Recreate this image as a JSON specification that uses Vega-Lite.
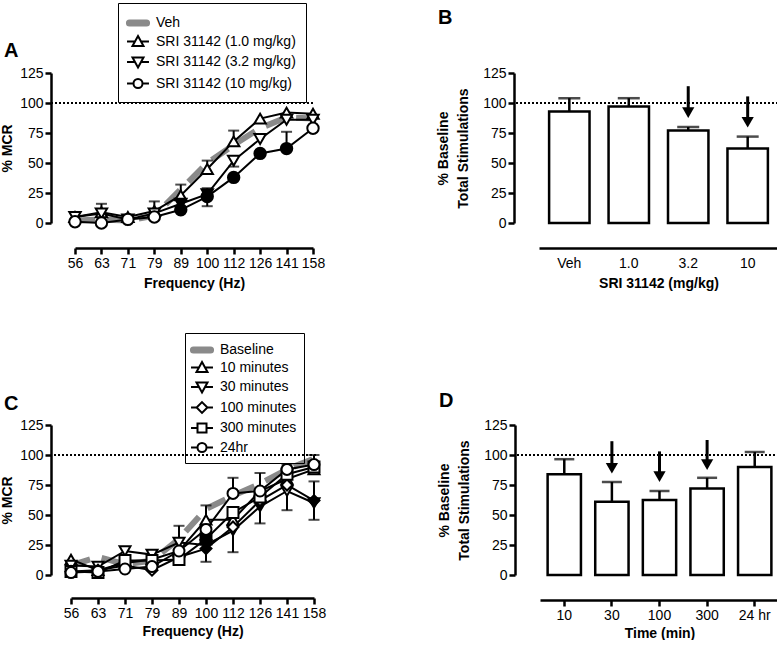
{
  "$schema": "https://vega.github.io/schema/vega-lite/v6.json",
  "padding": {"left": 0, "top": 2, "right": 0, "bottom": 0},
  "background": "white",
  "resolve": {"scale": {"shape": "independent", "fill": "independent", "stroke": "independent"}, "legend": {"shape": "independent", "fill": "independent", "stroke": "independent"}},
  "config": {
    "font": "Liberation Sans",
    "view": {"stroke": null},
    "axis": {"domainColor": "black", "domainWidth": 2.5, "tickColor": "black", "tickWidth": 2.5, "tickSize": 6, "labelColor": "black", "labelFontSize": 14, "labelFont": "Liberation Sans", "titleFont": "Liberation Sans", "titleFontSize": 14, "titleFontWeight": "bold", "titleColor": "black", "grid": false, "labelPadding": 2},
    "legend": {"labelFont": "Liberation Sans", "labelColor": "black", "labelFontSize": 14},
    "title": {"font": "Liberation Sans", "fontSize": 20, "fontWeight": "bold", "color": "black", "anchor": "start", "frame": "group"}
  },
  "vconcat": [
    {
      "resolve": {"scale": {"shape": "independent", "fill": "independent", "stroke": "independent"}, "legend": {"shape": "independent", "fill": "independent", "stroke": "independent"}},
      "hconcat": [
        {
          "width": 262, "height": 150,
          "title": {"text": "A", "dx": -47, "dy": 62},
          "resolve": {"scale": {"shape": "independent", "fill": "independent", "stroke": "independent"}, "legend": {"shape": "independent", "fill": "independent", "stroke": "independent"}},
          "data": {"values": [
            {"s": "Veh", "f": 56, "v": 2}, {"s": "Veh", "f": 63, "v": 3}, {"s": "Veh", "f": 71, "v": 2}, {"s": "Veh", "f": 79, "v": 6}, {"s": "Veh", "f": 89, "v": 28}, {"s": "Veh", "f": 100, "v": 50}, {"s": "Veh", "f": 112, "v": 65}, {"s": "Veh", "f": 126, "v": 79}, {"s": "Veh", "f": 141, "v": 88}, {"s": "Veh", "f": 158, "v": 87},
            {"s": "SRI 31142 (1.0 mg/kg)", "f": 56, "v": 5, "sig": 0}, {"s": "SRI 31142 (1.0 mg/kg)", "f": 63, "v": 9, "sig": 0, "hi": 16}, {"s": "SRI 31142 (1.0 mg/kg)", "f": 71, "v": 5, "sig": 0}, {"s": "SRI 31142 (1.0 mg/kg)", "f": 79, "v": 10, "sig": 0, "hi": 18}, {"s": "SRI 31142 (1.0 mg/kg)", "f": 89, "v": 23, "sig": 0, "hi": 32}, {"s": "SRI 31142 (1.0 mg/kg)", "f": 100, "v": 45, "sig": 0, "hi": 52}, {"s": "SRI 31142 (1.0 mg/kg)", "f": 112, "v": 68, "sig": 0, "hi": 77}, {"s": "SRI 31142 (1.0 mg/kg)", "f": 126, "v": 87, "sig": 0}, {"s": "SRI 31142 (1.0 mg/kg)", "f": 141, "v": 92, "sig": 0}, {"s": "SRI 31142 (1.0 mg/kg)", "f": 158, "v": 91, "sig": 0},
            {"s": "SRI 31142 (3.2 mg/kg)", "f": 56, "v": 5, "sig": 0}, {"s": "SRI 31142 (3.2 mg/kg)", "f": 63, "v": 8, "sig": 0}, {"s": "SRI 31142 (3.2 mg/kg)", "f": 71, "v": 3, "sig": 0}, {"s": "SRI 31142 (3.2 mg/kg)", "f": 79, "v": 8, "sig": 0}, {"s": "SRI 31142 (3.2 mg/kg)", "f": 89, "v": 16, "sig": 1}, {"s": "SRI 31142 (3.2 mg/kg)", "f": 100, "v": 24, "sig": 1, "hi": 29, "lo": 14}, {"s": "SRI 31142 (3.2 mg/kg)", "f": 112, "v": 52, "sig": 0, "lo": 47}, {"s": "SRI 31142 (3.2 mg/kg)", "f": 126, "v": 70, "sig": 0}, {"s": "SRI 31142 (3.2 mg/kg)", "f": 141, "v": 86, "sig": 0}, {"s": "SRI 31142 (3.2 mg/kg)", "f": 158, "v": 86, "sig": 0},
            {"s": "SRI 31142 (10 mg/kg)", "f": 56, "v": 1, "sig": 0}, {"s": "SRI 31142 (10 mg/kg)", "f": 63, "v": 0, "sig": 0}, {"s": "SRI 31142 (10 mg/kg)", "f": 71, "v": 3, "sig": 0}, {"s": "SRI 31142 (10 mg/kg)", "f": 79, "v": 5, "sig": 0}, {"s": "SRI 31142 (10 mg/kg)", "f": 89, "v": 11, "sig": 1}, {"s": "SRI 31142 (10 mg/kg)", "f": 100, "v": 22, "sig": 1}, {"s": "SRI 31142 (10 mg/kg)", "f": 112, "v": 38, "sig": 1}, {"s": "SRI 31142 (10 mg/kg)", "f": 126, "v": 58, "sig": 1}, {"s": "SRI 31142 (10 mg/kg)", "f": 141, "v": 62, "sig": 1, "hi": 76}, {"s": "SRI 31142 (10 mg/kg)", "f": 158, "v": 79, "sig": 0}
          ]},
          "layer": [
            {"mark": {"type": "rule", "strokeDash": [2, 2], "strokeWidth": 1.5, "color": "black"},
             "encoding": {"y": {"datum": 100, "type": "quantitative", "scale": {"domain": [0, 125], "nice": false}, "axis": {"title": "% MCR", "values": [0, 25, 50, 75, 100, 125], "titlePadding": 5}}}},
            {"transform": [{"filter": "datum.s === 'Veh'"}],
             "mark": {"type": "line", "color": "#8a8a8a", "strokeWidth": 6, "strokeDash": [20, 12]},
             "encoding": {"x": {"field": "f", "type": "ordinal", "scale": {"type": "point", "padding": 0, "range": [24, 262]}, "axis": {"title": "Frequency (Hz)", "offset": 25, "labelAngle": 0, "titlePadding": 6}}, "y": {"field": "v", "type": "quantitative", "axis": {"title": "% MCR", "values": [0, 25, 50, 75, 100, 125], "titlePadding": 5}}}},
            {"transform": [{"filter": "datum.s !== 'Veh'"}],
             "mark": {"type": "line", "color": "black", "strokeWidth": 2},
             "encoding": {"x": {"field": "f", "type": "ordinal"}, "y": {"field": "v", "type": "quantitative", "axis": {"title": "% MCR", "values": [0, 25, 50, 75, 100, 125], "titlePadding": 5}}, "detail": {"field": "s"}}},
            {"transform": [{"filter": "isValid(datum.hi)"}],
             "mark": {"type": "rule", "color": "black", "strokeWidth": 2},
             "encoding": {"x": {"field": "f", "type": "ordinal"}, "y": {"field": "v", "type": "quantitative", "axis": {"title": "% MCR", "values": [0, 25, 50, 75, 100, 125], "titlePadding": 5}}, "y2": {"field": "hi"}}},
            {"transform": [{"filter": "isValid(datum.lo)"}],
             "mark": {"type": "rule", "color": "black", "strokeWidth": 2},
             "encoding": {"x": {"field": "f", "type": "ordinal"}, "y": {"field": "v", "type": "quantitative", "axis": {"title": "% MCR", "values": [0, 25, 50, 75, 100, 125], "titlePadding": 5}}, "y2": {"field": "lo"}}},
            {"transform": [{"filter": "isValid(datum.hi)"}],
             "mark": {"type": "tick", "color": "black", "thickness": 2, "size": 11},
             "encoding": {"x": {"field": "f", "type": "ordinal"}, "y": {"field": "hi", "type": "quantitative", "axis": {"title": "% MCR", "values": [0, 25, 50, 75, 100, 125], "titlePadding": 5}}}},
            {"transform": [{"filter": "isValid(datum.lo)"}],
             "mark": {"type": "tick", "color": "black", "thickness": 2, "size": 11},
             "encoding": {"x": {"field": "f", "type": "ordinal"}, "y": {"field": "lo", "type": "quantitative", "axis": {"title": "% MCR", "values": [0, 25, 50, 75, 100, 125], "titlePadding": 5}}}},
            {"transform": [{"filter": "datum.s !== 'Veh'"}],
             "mark": {"type": "point", "filled": true, "stroke": "black", "strokeWidth": 2, "size": 130, "opacity": 1},
             "encoding": {
               "x": {"field": "f", "type": "ordinal"}, "y": {"field": "v", "type": "quantitative", "axis": {"title": "% MCR", "values": [0, 25, 50, 75, 100, 125], "titlePadding": 5}},
               "fill": {"condition": {"test": "datum.sig === 1", "value": "black"}, "value": "white"},
               "shape": {"field": "s", "type": "nominal", "scale": {"domain": ["SRI 31142 (1.0 mg/kg)", "SRI 31142 (3.2 mg/kg)", "SRI 31142 (10 mg/kg)"], "range": ["triangle-up", "triangle-down", "circle"]}, "legend": null}
             }},
            {"transform": [{"filter": "datum.s === 'none'"}],
             "mark": {"type": "point", "filled": true, "strokeWidth": 2, "size": 324},
             "encoding": {
               "x": {"field": "f", "type": "ordinal"}, "y": {"field": "v", "type": "quantitative", "axis": {"title": "% MCR", "values": [0, 25, 50, 75, 100, 125], "titlePadding": 5}},
               "shape": {"field": "s", "type": "nominal",
                 "scale": {"domain": ["Veh", "SRI 31142 (1.0 mg/kg)", "SRI 31142 (3.2 mg/kg)", "SRI 31142 (10 mg/kg)"], "range": ["M-0.95,-0.28H0.95A0.28,0.28 0 0,1 0.95,0.28H-0.95A0.28,0.28 0 0,1 -0.95,-0.28Z", "M-1.22,0H-0.33M0.33,0H1.22M0,-0.6L0.61,0.5H-0.61Z", "M-1.22,0H-0.33M0.33,0H1.22M0,0.6L0.61,-0.5H-0.61Z", "M-1.22,0H-0.5M0.5,0H1.22M-0.5,0A0.5,0.5 0 1,0 0.5,0A0.5,0.5 0 1,0 -0.5,0Z"]},
                 "legend": {"title": null, "orient": "none", "legendX": 67, "legendY": -70, "labelFontSize": 14, "symbolSize": 324, "symbolStrokeWidth": 2, "symbolOpacity": 1, "rowPadding": 1.5, "padding": 10, "labelOffset": 8, "strokeColor": "black", "encode": {"legend": {"strokeWidth": {"value": 2.5}}}}},
               "fill": {"field": "s", "type": "nominal",
                 "scale": {"domain": ["Veh", "SRI 31142 (1.0 mg/kg)", "SRI 31142 (3.2 mg/kg)", "SRI 31142 (10 mg/kg)"], "range": ["#8a8a8a", "white", "white", "white"]},
                 "legend": {"title": null, "orient": "none", "legendX": 67, "legendY": -70, "labelFontSize": 14, "symbolSize": 324, "symbolStrokeWidth": 2, "symbolOpacity": 1, "rowPadding": 1.5, "padding": 10, "labelOffset": 8, "strokeColor": "black", "encode": {"legend": {"strokeWidth": {"value": 2.5}}}}},
               "stroke": {"field": "s", "type": "nominal",
                 "scale": {"domain": ["Veh", "SRI 31142 (1.0 mg/kg)", "SRI 31142 (3.2 mg/kg)", "SRI 31142 (10 mg/kg)"], "range": ["#8a8a8a", "black", "black", "black"]},
                 "legend": {"title": null, "orient": "none", "legendX": 67, "legendY": -70, "labelFontSize": 14, "symbolSize": 324, "symbolStrokeWidth": 2, "symbolOpacity": 1, "rowPadding": 1.5, "padding": 10, "labelOffset": 8, "strokeColor": "black", "encode": {"legend": {"strokeWidth": {"value": 2.5}}}}}
             }}
          ]
        },
        {
          "width": 264, "height": 150,
          "title": {"text": "B", "dx": -76, "dy": 0, "offset": 38},
          "data": {"values": [
            {"g": "Veh", "v": 93, "hi": 104},
            {"g": "1.0", "v": 97, "hi": 104},
            {"g": "3.2", "v": 77, "hi": 80, "at": 114, "ah": 92},
            {"g": "10", "v": 62, "hi": 72, "at": 105.5, "ah": 84}
          ]},
          "layer": [
            {"mark": {"type": "rule", "strokeDash": [2, 2], "strokeWidth": 1.5, "color": "black"},
             "encoding": {"y": {"datum": 100, "type": "quantitative", "scale": {"domain": [0, 125], "nice": false}, "axis": {"title": ["% Baseline", "Total Stimulations"], "values": [0, 25, 50, 75, 100, 125], "titlePadding": 12, "titleLineHeight": 20}}}},
            {"mark": {"type": "rule", "color": "black", "strokeWidth": 2.5},
             "encoding": {"x": {"field": "g", "type": "nominal", "sort": null, "scale": {"range": [25, 264], "paddingInner": 0.32, "paddingOuter": 0.17}, "axis": {"title": "SRI 31142 (mg/kg)", "offset": 25, "ticks": false, "labelAngle": 0, "labelPadding": 8, "titlePadding": 6}}, "y": {"field": "v", "type": "quantitative", "axis": {"title": ["% Baseline", "Total Stimulations"], "values": [0, 25, 50, 75, 100, 125], "titlePadding": 12, "titleLineHeight": 20}}, "y2": {"field": "hi"}}},
            {"mark": {"type": "tick", "color": "black", "thickness": 2.5, "size": 22},
             "encoding": {"x": {"field": "g", "type": "nominal", "sort": null}, "y": {"field": "hi", "type": "quantitative", "axis": {"title": ["% Baseline", "Total Stimulations"], "values": [0, 25, 50, 75, 100, 125], "titlePadding": 12, "titleLineHeight": 20}}}},
            {"mark": {"type": "bar", "fill": "white", "stroke": "black", "strokeWidth": 2.5},
             "encoding": {"x": {"field": "g", "type": "nominal", "sort": null}, "y": {"field": "v", "type": "quantitative", "axis": {"title": ["% Baseline", "Total Stimulations"], "values": [0, 25, 50, 75, 100, 125], "titlePadding": 12, "titleLineHeight": 20}}}},
            {"transform": [{"filter": "isValid(datum.at)"}],
             "mark": {"type": "rule", "color": "black", "strokeWidth": 3},
             "encoding": {"x": {"field": "g", "type": "nominal", "sort": null}, "y": {"field": "at", "type": "quantitative", "axis": {"title": ["% Baseline", "Total Stimulations"], "values": [0, 25, 50, 75, 100, 125], "titlePadding": 12, "titleLineHeight": 20}}, "y2": {"field": "ah"}}},
            {"transform": [{"filter": "isValid(datum.at)"}],
             "mark": {"type": "point", "shape": "triangle-down", "filled": true, "color": "black", "size": 150, "opacity": 1},
             "encoding": {"x": {"field": "g", "type": "nominal", "sort": null}, "y": {"field": "ah", "type": "quantitative", "axis": {"title": ["% Baseline", "Total Stimulations"], "values": [0, 25, 50, 75, 100, 125], "titlePadding": 12, "titleLineHeight": 20}}}}
          ]
        }
      ],
      "spacing": 111
    },
    {
      "resolve": {"scale": {"shape": "independent", "fill": "independent", "stroke": "independent"}, "legend": {"shape": "independent", "fill": "independent", "stroke": "independent"}},
      "hconcat": [
        {
          "width": 265, "height": 150,
          "title": {"text": "C", "dx": -47, "dy": 85},
          "resolve": {"scale": {"shape": "independent", "fill": "independent", "stroke": "independent"}, "legend": {"shape": "independent", "fill": "independent", "stroke": "independent"}},
          "data": {"values": [
            {"s": "Baseline", "f": 56, "v": 8}, {"s": "Baseline", "f": 63, "v": 15}, {"s": "Baseline", "f": 71, "v": 9}, {"s": "Baseline", "f": 79, "v": 12}, {"s": "Baseline", "f": 89, "v": 30}, {"s": "Baseline", "f": 100, "v": 55}, {"s": "Baseline", "f": 112, "v": 66}, {"s": "Baseline", "f": 126, "v": 76}, {"s": "Baseline", "f": 141, "v": 88}, {"s": "Baseline", "f": 158, "v": 97},
            {"s": "10 minutes", "f": 56, "v": 13, "sig": 0}, {"s": "10 minutes", "f": 63, "v": 4, "sig": 0}, {"s": "10 minutes", "f": 71, "v": 10, "sig": 0}, {"s": "10 minutes", "f": 79, "v": 13, "sig": 0}, {"s": "10 minutes", "f": 89, "v": 20, "sig": 0}, {"s": "10 minutes", "f": 100, "v": 46, "sig": 0, "hi": 58}, {"s": "10 minutes", "f": 112, "v": 46, "sig": 0}, {"s": "10 minutes", "f": 126, "v": 70, "sig": 0, "hi": 85}, {"s": "10 minutes", "f": 141, "v": 80, "sig": 0}, {"s": "10 minutes", "f": 158, "v": 88, "sig": 0},
            {"s": "30 minutes", "f": 56, "v": 8, "sig": 0}, {"s": "30 minutes", "f": 63, "v": 7, "sig": 0}, {"s": "30 minutes", "f": 71, "v": 20, "sig": 0}, {"s": "30 minutes", "f": 79, "v": 17, "sig": 0}, {"s": "30 minutes", "f": 89, "v": 27, "sig": 0, "hi": 41}, {"s": "30 minutes", "f": 100, "v": 25, "sig": 1}, {"s": "30 minutes", "f": 112, "v": 37, "sig": 1, "lo": 19}, {"s": "30 minutes", "f": 126, "v": 57, "sig": 1, "lo": 43}, {"s": "30 minutes", "f": 141, "v": 70, "sig": 0, "lo": 54}, {"s": "30 minutes", "f": 158, "v": 60, "sig": 1},
            {"s": "100 minutes", "f": 56, "v": 3, "sig": 0}, {"s": "100 minutes", "f": 63, "v": 4, "sig": 0}, {"s": "100 minutes", "f": 71, "v": 8, "sig": 0}, {"s": "100 minutes", "f": 79, "v": 4, "sig": 0}, {"s": "100 minutes", "f": 89, "v": 15, "sig": 0}, {"s": "100 minutes", "f": 100, "v": 22, "sig": 1, "lo": 11}, {"s": "100 minutes", "f": 112, "v": 40, "sig": 0}, {"s": "100 minutes", "f": 126, "v": 62, "sig": 0}, {"s": "100 minutes", "f": 141, "v": 75, "sig": 0}, {"s": "100 minutes", "f": 158, "v": 62, "sig": 1, "lo": 46, "hi": 78},
            {"s": "300 minutes", "f": 56, "v": 3, "sig": 0}, {"s": "300 minutes", "f": 63, "v": 2, "sig": 0}, {"s": "300 minutes", "f": 71, "v": 12, "sig": 0}, {"s": "300 minutes", "f": 79, "v": 12, "sig": 0}, {"s": "300 minutes", "f": 89, "v": 13, "sig": 0}, {"s": "300 minutes", "f": 100, "v": 30, "sig": 1}, {"s": "300 minutes", "f": 112, "v": 52, "sig": 0}, {"s": "300 minutes", "f": 126, "v": 65, "sig": 0}, {"s": "300 minutes", "f": 141, "v": 84, "sig": 0}, {"s": "300 minutes", "f": 158, "v": 90, "sig": 0},
            {"s": "24hr", "f": 56, "v": 2, "sig": 0}, {"s": "24hr", "f": 63, "v": 3, "sig": 0}, {"s": "24hr", "f": 71, "v": 5, "sig": 0}, {"s": "24hr", "f": 79, "v": 7, "sig": 0}, {"s": "24hr", "f": 89, "v": 20, "sig": 0}, {"s": "24hr", "f": 100, "v": 38, "sig": 0}, {"s": "24hr", "f": 112, "v": 68, "sig": 0, "hi": 81}, {"s": "24hr", "f": 126, "v": 70, "sig": 0}, {"s": "24hr", "f": 141, "v": 88, "sig": 0, "hi": 92}, {"s": "24hr", "f": 158, "v": 92, "sig": 0, "hi": 100}
          ]},
          "layer": [
            {"mark": {"type": "rule", "strokeDash": [2, 2], "strokeWidth": 1.5, "color": "black"},
             "encoding": {"y": {"datum": 100, "type": "quantitative", "scale": {"domain": [0, 125], "nice": false}, "axis": {"title": "% MCR", "values": [0, 25, 50, 75, 100, 125], "titlePadding": 5}}}},
            {"transform": [{"filter": "datum.s === 'Baseline'"}],
             "mark": {"type": "line", "color": "#8a8a8a", "strokeWidth": 6, "strokeDash": [20, 12]},
             "encoding": {"x": {"field": "f", "type": "ordinal", "scale": {"type": "point", "padding": 0, "range": [20, 263]}, "axis": {"title": "Frequency (Hz)", "offset": 23, "labelAngle": 0, "titlePadding": 4}}, "y": {"field": "v", "type": "quantitative", "axis": {"title": "% MCR", "values": [0, 25, 50, 75, 100, 125], "titlePadding": 5}}}},
            {"transform": [{"filter": "datum.s !== 'Baseline'"}],
             "mark": {"type": "line", "color": "black", "strokeWidth": 2},
             "encoding": {"x": {"field": "f", "type": "ordinal"}, "y": {"field": "v", "type": "quantitative", "axis": {"title": "% MCR", "values": [0, 25, 50, 75, 100, 125], "titlePadding": 5}}, "detail": {"field": "s"}}},
            {"transform": [{"filter": "isValid(datum.hi)"}],
             "mark": {"type": "rule", "color": "black", "strokeWidth": 2},
             "encoding": {"x": {"field": "f", "type": "ordinal"}, "y": {"field": "v", "type": "quantitative", "axis": {"title": "% MCR", "values": [0, 25, 50, 75, 100, 125], "titlePadding": 5}}, "y2": {"field": "hi"}}},
            {"transform": [{"filter": "isValid(datum.lo)"}],
             "mark": {"type": "rule", "color": "black", "strokeWidth": 2},
             "encoding": {"x": {"field": "f", "type": "ordinal"}, "y": {"field": "v", "type": "quantitative", "axis": {"title": "% MCR", "values": [0, 25, 50, 75, 100, 125], "titlePadding": 5}}, "y2": {"field": "lo"}}},
            {"transform": [{"filter": "isValid(datum.hi)"}],
             "mark": {"type": "tick", "color": "black", "thickness": 2, "size": 11},
             "encoding": {"x": {"field": "f", "type": "ordinal"}, "y": {"field": "hi", "type": "quantitative", "axis": {"title": "% MCR", "values": [0, 25, 50, 75, 100, 125], "titlePadding": 5}}}},
            {"transform": [{"filter": "isValid(datum.lo)"}],
             "mark": {"type": "tick", "color": "black", "thickness": 2, "size": 11},
             "encoding": {"x": {"field": "f", "type": "ordinal"}, "y": {"field": "lo", "type": "quantitative", "axis": {"title": "% MCR", "values": [0, 25, 50, 75, 100, 125], "titlePadding": 5}}}},
            {"transform": [{"filter": "datum.s !== 'Baseline'"}],
             "mark": {"type": "point", "filled": true, "stroke": "black", "strokeWidth": 2, "size": 120, "opacity": 1},
             "encoding": {
               "x": {"field": "f", "type": "ordinal"}, "y": {"field": "v", "type": "quantitative", "axis": {"title": "% MCR", "values": [0, 25, 50, 75, 100, 125], "titlePadding": 5}},
               "fill": {"condition": {"test": "datum.sig === 1", "value": "black"}, "value": "white"},
               "shape": {"field": "s", "type": "nominal", "scale": {"domain": ["10 minutes", "30 minutes", "100 minutes", "300 minutes", "24hr"], "range": ["triangle-up", "triangle-down", "diamond", "square", "circle"]}, "legend": null}
             }},
            {"transform": [{"filter": "datum.s === 'none'"}],
             "mark": {"type": "point", "filled": true, "strokeWidth": 2, "size": 324},
             "encoding": {
               "x": {"field": "f", "type": "ordinal"}, "y": {"field": "v", "type": "quantitative", "axis": {"title": "% MCR", "values": [0, 25, 50, 75, 100, 125], "titlePadding": 5}},
               "shape": {"field": "s", "type": "nominal",
                 "scale": {"domain": ["Baseline", "10 minutes", "30 minutes", "100 minutes", "300 minutes", "24hr"], "range": ["M-0.95,-0.28H0.95A0.28,0.28 0 0,1 0.95,0.28H-0.95A0.28,0.28 0 0,1 -0.95,-0.28Z", "M-1.22,0H-0.33M0.33,0H1.22M0,-0.6L0.61,0.5H-0.61Z", "M-1.22,0H-0.33M0.33,0H1.22M0,0.6L0.61,-0.5H-0.61Z", "M-1.22,0H-0.6M0.6,0H1.22M0,-0.6L0.6,0L0,0.6L-0.6,0Z", "M-1.22,0H-0.5M0.5,0H1.22M-0.5,-0.5H0.5V0.5H-0.5Z", "M-1.22,0H-0.5M0.5,0H1.22M-0.5,0A0.5,0.5 0 1,0 0.5,0A0.5,0.5 0 1,0 -0.5,0Z"]},
                 "legend": {"title": null, "orient": "none", "legendX": 134, "legendY": -92, "labelFontSize": 14, "symbolSize": 324, "symbolStrokeWidth": 2, "symbolOpacity": 1, "rowPadding": 0.5, "padding": 7, "labelOffset": 8, "strokeColor": "black", "encode": {"legend": {"strokeWidth": {"value": 2.5}}}}},
               "fill": {"field": "s", "type": "nominal",
                 "scale": {"domain": ["Baseline", "10 minutes", "30 minutes", "100 minutes", "300 minutes", "24hr"], "range": ["#8a8a8a", "white", "white", "white", "white", "white"]},
                 "legend": {"title": null, "orient": "none", "legendX": 134, "legendY": -92, "labelFontSize": 14, "symbolSize": 324, "symbolStrokeWidth": 2, "symbolOpacity": 1, "rowPadding": 0.5, "padding": 7, "labelOffset": 8, "strokeColor": "black", "encode": {"legend": {"strokeWidth": {"value": 2.5}}}}},
               "stroke": {"field": "s", "type": "nominal",
                 "scale": {"domain": ["Baseline", "10 minutes", "30 minutes", "100 minutes", "300 minutes", "24hr"], "range": ["#8a8a8a", "black", "black", "black", "black", "black"]},
                 "legend": {"title": null, "orient": "none", "legendX": 134, "legendY": -92, "labelFontSize": 14, "symbolSize": 324, "symbolStrokeWidth": 2, "symbolOpacity": 1, "rowPadding": 0.5, "padding": 7, "labelOffset": 8, "strokeColor": "black", "encode": {"legend": {"strokeWidth": {"value": 2.5}}}}}
             }}
          ]
        },
        {
          "width": 264, "height": 150,
          "title": {"text": "D", "dx": -76, "dy": -3},
          "data": {"values": [
            {"g": "10", "v": 84, "hi": 96.5},
            {"g": "30", "v": 61, "hi": 77.5, "at": 111.5, "ah": 89},
            {"g": "100", "v": 62.5, "hi": 70, "at": 103, "ah": 82},
            {"g": "300", "v": 72, "hi": 81, "at": 112.5, "ah": 92},
            {"g": "24 hr", "v": 90, "hi": 102.5}
          ]},
          "layer": [
            {"mark": {"type": "rule", "strokeDash": [2, 2], "strokeWidth": 1.5, "color": "black"},
             "encoding": {"y": {"datum": 100, "type": "quantitative", "scale": {"domain": [0, 125], "nice": false}, "axis": {"title": ["% Baseline", "Total Stimulations"], "values": [0, 25, 50, 75, 100, 125], "titlePadding": 12, "titleLineHeight": 20}}}},
            {"mark": {"type": "rule", "color": "black", "strokeWidth": 2.5},
             "encoding": {"x": {"field": "g", "type": "nominal", "sort": null, "scale": {"range": [25, 264], "paddingInner": 0.3, "paddingOuter": 0.16}, "axis": {"title": "Time (min)", "offset": 25, "labelAngle": 0, "titlePadding": 4}}, "y": {"field": "v", "type": "quantitative", "axis": {"title": ["% Baseline", "Total Stimulations"], "values": [0, 25, 50, 75, 100, 125], "titlePadding": 12, "titleLineHeight": 20}}, "y2": {"field": "hi"}}},
            {"mark": {"type": "tick", "color": "black", "thickness": 2.5, "size": 20},
             "encoding": {"x": {"field": "g", "type": "nominal", "sort": null}, "y": {"field": "hi", "type": "quantitative", "axis": {"title": ["% Baseline", "Total Stimulations"], "values": [0, 25, 50, 75, 100, 125], "titlePadding": 12, "titleLineHeight": 20}}}},
            {"mark": {"type": "bar", "fill": "white", "stroke": "black", "strokeWidth": 2.5},
             "encoding": {"x": {"field": "g", "type": "nominal", "sort": null}, "y": {"field": "v", "type": "quantitative", "axis": {"title": ["% Baseline", "Total Stimulations"], "values": [0, 25, 50, 75, 100, 125], "titlePadding": 12, "titleLineHeight": 20}}}},
            {"transform": [{"filter": "isValid(datum.at)"}],
             "mark": {"type": "rule", "color": "black", "strokeWidth": 3},
             "encoding": {"x": {"field": "g", "type": "nominal", "sort": null}, "y": {"field": "at", "type": "quantitative", "axis": {"title": ["% Baseline", "Total Stimulations"], "values": [0, 25, 50, 75, 100, 125], "titlePadding": 12, "titleLineHeight": 20}}, "y2": {"field": "ah"}}},
            {"transform": [{"filter": "isValid(datum.at)"}],
             "mark": {"type": "point", "shape": "triangle-down", "filled": true, "color": "black", "size": 150, "opacity": 1},
             "encoding": {"x": {"field": "g", "type": "nominal", "sort": null}, "y": {"field": "ah", "type": "quantitative", "axis": {"title": ["% Baseline", "Total Stimulations"], "values": [0, 25, 50, 75, 100, 125], "titlePadding": 12, "titleLineHeight": 20}}}}
          ]
        }
      ],
      "spacing": 111
    }
  ],
  "spacing": 42
}
